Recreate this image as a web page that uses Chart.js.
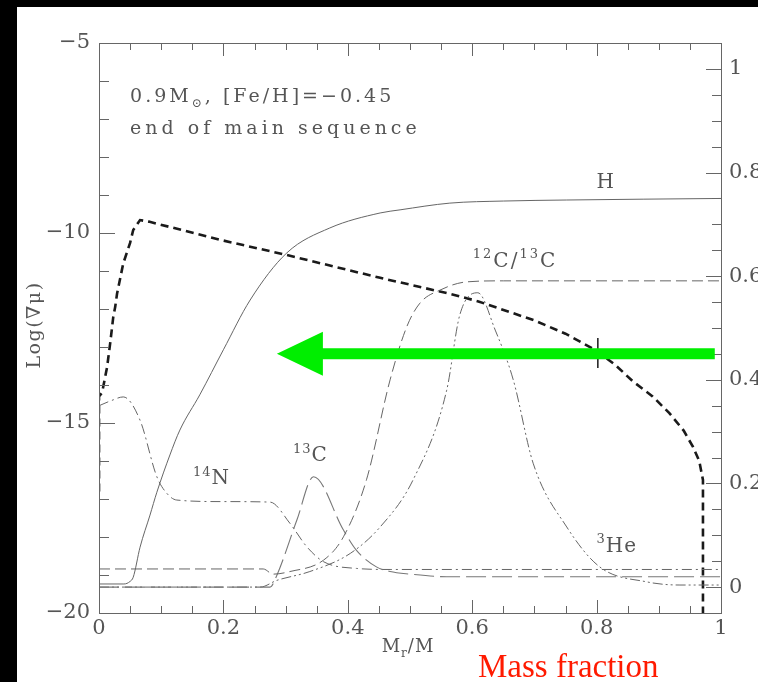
<!DOCTYPE html>
<html>
<head>
<meta charset="utf-8">
<title>Log(∇μ) profile</title>
<style>
  html, body { margin: 0; padding: 0; background: #000; }
  #wrap { position: absolute; left: 0; top: 0; width: 758px; height: 682px; }
</style>
<script src="https://cdn.jsdelivr.net/npm/chart.js@4.4.1/dist/chart.umd.min.js"></script>
</head>
<body>
<div id="wrap"><canvas id="profileChart"></canvas></div>
<script>
// Axis ticks
const massTicks = [0, 0.2, 0.4, 0.6, 0.8, 1];
const gradTicks = [-20, -15, -10, -5];
const fracTicks = [0, 0.2, 0.4, 0.6, 0.8, 1];

// Log of the mu-gradient (left axis)
const gradMass = [0, 0, 0.005, 0.013, 0.018, 0.023, 0.026, 0.029, 0.039, 0.05, 0.055, 0.066, 0.08, 0.195, 0.302, 0.452, 0.564, 0.61, 0.7, 0.75, 0.8, 0.83, 0.858, 0.89, 0.917, 0.94, 0.955, 0.965, 0.971, 0.971];
const gradLog = [-16.8, -14.3, -14.2, -13.53, -12.9, -12.2, -11.95, -11.6, -10.8, -10.26, -9.92, -9.66, -9.7, -10.18, -10.58, -11.18, -11.6, -11.8, -12.3, -12.65, -13.1, -13.47, -13.9, -14.3, -14.74, -15.2, -15.63, -16.0, -16.5, -20];

// Marker on the gradient curve
const markMass = [0.802, 0.802];
const markLog = [-12.76, -13.55];

// Mass fractions (right axis)
const hMass = [0, 0.04, 0.05, 0.055, 0.066, 0.082, 0.093, 0.114, 0.13, 0.162, 0.2, 0.243, 0.302, 0.371, 0.452, 0.484, 0.564, 0.65, 0.752, 1];
const hFrac = [0.006, 0.006, 0.011, 0.019, 0.077, 0.139, 0.183, 0.255, 0.303, 0.371, 0.458, 0.554, 0.645, 0.693, 0.722, 0.728, 0.741, 0.745, 0.747, 0.75];

const ratioMass = [0, 0.264, 0.28, 0.307, 0.361, 0.393, 0.43, 0.468, 0.495, 0.516, 0.548, 0.591, 0.65, 1];
const ratioVal = [0.035, 0.035, 0.025, 0.03, 0.052, 0.097, 0.207, 0.4, 0.503, 0.548, 0.573, 0.589, 0.591, 0.591];

const c13Mass = [0, 0.275, 0.286, 0.318, 0.345, 0.393, 0.414, 0.446, 0.468, 0.5, 0.559, 1];
const c13Frac = [0.0, 0.0, 0.023, 0.129, 0.213, 0.11, 0.071, 0.039, 0.03, 0.025, 0.02, 0.02];

const n14Mass = [0, 0.02, 0.039, 0.066, 0.093, 0.109, 0.125, 0.2, 0.275, 0.307, 0.334, 0.361, 0.414, 0.468, 1];
const n14Frac = [0.35, 0.36, 0.367, 0.322, 0.213, 0.181, 0.168, 0.165, 0.164, 0.123, 0.078, 0.049, 0.036, 0.034, 0.034];

const he3Mass = [0, 0.259, 0.286, 0.339, 0.404, 0.452, 0.505, 0.559, 0.58, 0.609, 0.637, 0.666, 0.698, 0.752, 0.805, 0.881, 0.934, 1];
const he3Frac = [0.0, 0.0, 0.013, 0.03, 0.065, 0.116, 0.207, 0.38, 0.525, 0.568, 0.496, 0.4, 0.239, 0.116, 0.039, 0.01, 0.004, 0.004];

// Arrow (mass coordinates and gradient level)
const arrowFrom = 0.99;
const arrowTo = 0.286;
const arrowLevel = -13.18;

const SERIF = '"DejaVu Serif", serif';
const INK = '#555';

function pts(xs, ys) {
    return xs.map((x, i) => ({ x: x, y: ys[i] }));
}

function fmtFrac(v) {
    if (v === 0) return '0';
    if (v === 1) return '1';
    return v.toFixed(1);
}

function curve(data, dash, width, color, axis) {
    return {
        data: data,
        yAxisID: axis || 'y2',
        showLine: true,
        borderColor: color || '#666',
        borderWidth: width || 1,
        borderDash: dash,
        pointRadius: 0,
        fill: false,
        cubicInterpolationMode: 'monotone'
    };
}

// Draw text made of normal / superscript / subscript runs
function richText(ctx, parts, x, y, size, spacing, centered) {
    ctx.save();
    ctx.fillStyle = INK;
    ctx.textBaseline = 'alphabetic';
    ctx.textAlign = 'left';
    ctx.letterSpacing = spacing + 'px';
    const runs = parts.map(([txt, kind]) => {
        let fs = size, dy = 0;
        if (kind === 'sup') { fs = Math.round(size * 0.65); dy = -size * 0.42; }
        if (kind === 'sub') { fs = Math.round(size * 0.65); dy = size * 0.25; }
        ctx.font = fs + 'px ' + SERIF;
        return { txt, fs, dy, w: ctx.measureText(txt).width };
    });
    let cx = x;
    if (centered) cx -= runs.reduce((s, r) => s + r.w, 0) / 2;
    runs.forEach(r => {
        ctx.font = r.fs + 'px ' + SERIF;
        ctx.fillText(r.txt, cx, y + r.dy);
        cx += r.w;
    });
    ctx.restore();
}

const background = {
    id: 'background',
    beforeDraw(chart) {
        const ctx = chart.ctx;
        ctx.save();
        ctx.fillStyle = '#fff';
        ctx.fillRect(0, 0, chart.width, chart.height);
        ctx.fillStyle = '#000';
        ctx.fillRect(0, 0, chart.width, 7);
        ctx.fillRect(0, 0, 17, chart.height);
        ctx.restore();
    }
};

// Box frame with inward ticks on all four sides
const frame = {
    id: 'frame',
    afterDatasetsDraw(chart) {
        const ctx = chart.ctx;
        const a = chart.chartArea;
        const sx = chart.scales.x, sy = chart.scales.y, s2 = chart.scales.y2;
        ctx.save();
        ctx.strokeStyle = '#666';
        ctx.lineWidth = 1;
        ctx.strokeRect(Math.round(a.left) + 0.5, Math.round(a.top) + 0.5,
            Math.round(a.right - a.left), Math.round(a.bottom - a.top));
        ctx.beginPath();
        for (let i = 0; i <= 20; i++) {
            const v = i * 0.05;
            const major = massTicks.some(t => Math.abs(t - v) < 1e-6);
            const len = major ? 13 : 7;
            const p = Math.round(sx.getPixelForValue(v)) + 0.5;
            ctx.moveTo(p, a.bottom); ctx.lineTo(p, a.bottom - len);
            ctx.moveTo(p, a.top); ctx.lineTo(p, a.top + len);
        }
        for (let v = -20; v <= -5; v++) {
            const len = gradTicks.includes(v) ? 16 : 10;
            const p = Math.round(sy.getPixelForValue(v)) + 0.5;
            ctx.moveTo(a.left, p); ctx.lineTo(a.left + len, p);
        }
        for (let i = 0; i <= 20; i++) {
            const v = i * 0.05;
            const major = fracTicks.some(t => Math.abs(t - v) < 1e-6);
            const len = major ? 15 : 9;
            const p = Math.round(s2.getPixelForValue(v)) + 0.5;
            ctx.moveTo(a.right, p); ctx.lineTo(a.right - len, p);
        }
        ctx.stroke();
        ctx.restore();
    }
};

// Arrow, curve labels, header text and axis captions
const annotations = {
    id: 'annotations',
    afterDraw(chart) {
        const ctx = chart.ctx;
        const a = chart.chartArea;
        const sx = chart.scales.x, sy = chart.scales.y, s2 = chart.scales.y2;
        const X = v => sx.getPixelForValue(v);
        const F = v => s2.getPixelForValue(v);

        // green arrow
        const ay = sy.getPixelForValue(arrowLevel);
        const tip = X(arrowTo), tail = X(arrowFrom);
        const headLen = 46, headHalf = 22, shaftHalf = 5.5;
        ctx.save();
        ctx.fillStyle = '#00ee00';
        ctx.beginPath();
        ctx.moveTo(tip, ay);
        ctx.lineTo(tip + headLen, ay - headHalf);
        ctx.lineTo(tip + headLen, ay - shaftHalf);
        ctx.lineTo(tail, ay - shaftHalf);
        ctx.lineTo(tail, ay + shaftHalf);
        ctx.lineTo(tip + headLen, ay + shaftHalf);
        ctx.lineTo(tip + headLen, ay + headHalf);
        ctx.closePath();
        ctx.fill();
        ctx.restore();

        // header
        richText(ctx, [['0.9M', ''], ['⊙', 'sub'], [', [Fe/H]=−0.45', '']], X(0.05), F(0.936), 19, 3);
        richText(ctx, [['end of main sequence', '']], X(0.05), F(0.874), 19, 4);

        // curve labels
        richText(ctx, [['H', '']], X(0.8), F(0.77), 20, 0);
        richText(ctx, [['12', 'sup'], ['C', ''], ['/', ''], ['13', 'sup'], ['C', '']], X(0.601), F(0.618), 20, 2);
        richText(ctx, [['14', 'sup'], ['N', '']], X(0.151), F(0.199), 20, 1);
        richText(ctx, [['13', 'sup'], ['C', '']], X(0.312), F(0.243), 20, 1);
        richText(ctx, [['3', 'sup'], ['He', '']], X(0.8), F(0.068), 20, 1);

        // axis captions
        richText(ctx, [['M', ''], ['r', 'sub'], ['/M', '']], (a.left + a.right) / 2 - 2, 652, 18, 1, true);

        ctx.save();
        ctx.translate(33, (a.top + a.bottom) / 2 - 3);
        ctx.rotate(-Math.PI / 2);
        richText(ctx, [['Log(∇μ)', '']], 0, 7, 19, 1.5, true);
        ctx.restore();

        ctx.save();
        ctx.fillStyle = '#ff1a00';
        ctx.font = '33px "Liberation Serif", serif';
        ctx.textBaseline = 'alphabetic';
        ctx.fillText('Mass fraction', 478, 677);
        ctx.restore();
    }
};

const ctx = document.getElementById('profileChart').getContext('2d');
new Chart(ctx, {
    type: 'scatter',
    data: {
        datasets: [
            curve(pts(hMass, hFrac), [], 1, '#666'),
            curve(pts(ratioMass, ratioVal), [11, 5], 1, '#666'),
            curve(pts(c13Mass, c13Frac), [20, 6], 1.1, '#777'),
            curve(pts(n14Mass, n14Frac), [10, 4, 2, 4], 1, '#666'),
            curve(pts(he3Mass, he3Frac), [10, 3, 2, 3, 2, 3], 1, '#666'),
            Object.assign(curve(pts(gradMass, gradLog), [8, 5], 2.6, '#1a1a1a', 'y'), { cubicInterpolationMode: 'default', tension: 0 }),
            Object.assign(curve(pts(markMass, markLog), [], 1.5, '#1a1a1a', 'y'), { cubicInterpolationMode: 'default', tension: 0 })
        ]
    },
    options: {
        responsive: true,
        maintainAspectRatio: false,
        animation: false,
        layout: { padding: { top: 43, left: 0, right: 0, bottom: 0 } },
        plugins: {
            legend: { display: false },
            tooltip: { enabled: false }
        },
        scales: {
            x: {
                type: 'linear',
                position: 'bottom',
                min: 0,
                max: 1,
                grid: { display: false, drawTicks: false },
                border: { display: false },
                afterBuildTicks: s => { s.ticks = massTicks.map(v => ({ value: v })); },
                afterFit: s => { s.height = 69; },
                ticks: {
                    maxRotation: 0,
                    padding: 3,
                    color: INK,
                    font: { family: SERIF, size: 21 },
                    callback: v => fmtFrac(v)
                }
            },
            y: {
                type: 'linear',
                position: 'left',
                min: -20,
                max: -5,
                grid: { display: false, drawTicks: false },
                border: { display: false },
                afterBuildTicks: s => { s.ticks = gradTicks.map(v => ({ value: v })); },
                afterFit: s => { s.width = 99; },
                ticks: {
                    padding: 9,
                    color: INK,
                    font: { family: SERIF, size: 21 },
                    callback: v => (v < 0 ? '−' + Math.abs(v) : String(v))
                }
            },
            y2: {
                type: 'linear',
                position: 'right',
                min: -0.05,
                max: 1.05,
                grid: { display: false, drawTicks: false },
                border: { display: false },
                afterBuildTicks: s => { s.ticks = fracTicks.map(v => ({ value: v })); },
                afterFit: s => { s.width = 37; },
                ticks: {
                    padding: 8,
                    color: INK,
                    font: { family: SERIF, size: 21 },
                    callback: v => fmtFrac(v)
                }
            }
        }
    },
    plugins: [background, frame, annotations]
});
</script>
</body>
</html>
